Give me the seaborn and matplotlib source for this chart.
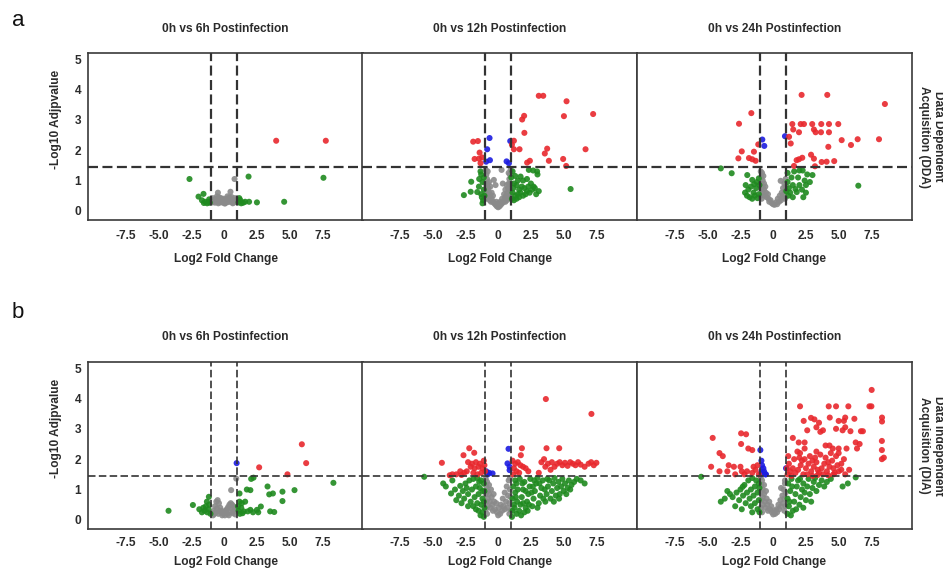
import matplotlib
matplotlib.use("Agg")
import matplotlib.pyplot as plt
import seaborn as sns
import pandas as pd

# ---------------- data ----------------
COMPARISONS = ["0h vs 6h Postinfection", "0h vs 12h Postinfection", "0h vs 24h Postinfection"]
METHODS = ["Data Dependent\nAcquisition (DDA)", "Data Independent\nAcquisition (DIA)"]
PANEL_LETTERS = ["a", "b"]
X_TICKS = [-7.5, -5.0, -2.5, 0, 2.5, 5.0, 7.5]
X_TICK_LABELS = ["-7.5", "-5.0", "-2.5", "0", "2.5", "5.0", "7.5"]
Y_TICKS = [0, 1, 2, 3, 4, 5]
FC_CUT = 1.0
P_CUT = 1.43

# ---- DDA 6h
dda_6h_red = [(3.97, 2.31), (7.76, 2.31)]
dda_6h_blue = []
dda_6h_green = [(-2.65, 1.05), (1.86, 1.13), (7.58, 1.09), (-1.58, 0.56), (-1.96, 0.47), (-1.45, 0.30),
                (-1.2, 0.30), (-1.15, 0.38), (-1.3, 0.25), (-1.1, 0.27), (-1.7, 0.35), (1.22, 0.36),
                (1.1, 0.28), (1.3, 0.25), (1.15, 0.42), (1.6, 0.30), (1.45, 0.27), (1.9, 0.3),
                (2.5, 0.28), (4.58, 0.30), (-1.55, 0.26)]
dda_6h_grey = [(0.79, 1.05), (-0.48, 0.6), (0.48, 0.63), (-0.9, 0.28), (-0.8, 0.35), (-0.7, 0.27),
               (-0.6, 0.4), (-0.5, 0.3), (-0.4, 0.45), (-0.3, 0.28), (-0.2, 0.38), (-0.1, 0.27),
               (0.0, 0.33), (0.1, 0.26), (0.2, 0.4), (0.3, 0.29), (0.4, 0.44), (0.5, 0.3), (0.6, 0.37),
               (0.7, 0.27), (0.8, 0.42), (0.9, 0.3), (-0.85, 0.42), (-0.65, 0.32), (-0.45, 0.25),
               (-0.25, 0.42), (-0.05, 0.4), (0.15, 0.32), (0.35, 0.36), (0.55, 0.46), (0.75, 0.33),
               (0.95, 0.37), (-0.95, 0.36), (-0.55, 0.48), (0.25, 0.48), (0.65, 0.25), (-0.15, 0.31),
               (0.05, 0.24)]

# ---- DDA 12h
dda_12h_red = [(3.1, 3.79), (3.44, 3.79), (5.22, 3.61), (7.25, 3.19), (5.02, 3.12), (1.98, 3.13),
               (1.83, 3.01), (2.0, 2.57), (-1.91, 2.28), (-1.55, 2.3), (1.2, 2.31), (1.2, 2.03),
               (1.63, 2.03), (3.74, 2.05), (3.56, 1.89), (6.67, 2.03), (3.87, 1.65), (4.96, 1.71),
               (5.19, 1.48), (2.21, 1.59), (2.42, 1.65), (-1.42, 1.92), (-1.8, 1.71), (-1.47, 1.72),
               (-1.22, 1.76), (-1.35, 1.57), (1.05, 2.18)]
dda_12h_blue = [(-0.66, 2.4), (0.92, 2.3), (-0.84, 2.03), (-0.63, 1.67), (-0.92, 1.62), (0.64, 1.63),
                (0.82, 1.57)]
dda_12h_green = [(-2.62, 0.52), (-2.1, 0.63), (-2.06, 0.96), (-1.47, 0.8), (-1.3, 1.2), (-1.45, 1.05),
                 (-1.35, 1.3), (-1.3, 0.55), (-1.25, 0.45), (-1.1, 0.7), (-1.2, 0.95), (-1.1, 1.1),
                 (-1.15, 0.35), (-1.05, 0.5), (-1.6, 0.62), (-1.2, 0.25), (1.71, 1.13), (2.34, 1.35),
                 (2.67, 1.33), (2.97, 1.3), (3.0, 1.2), (2.7, 0.8), (2.8, 0.75), (5.53, 0.72),
                 (1.1, 1.3), (1.3, 1.15), (1.5, 1.0), (1.2, 0.9), (1.4, 0.85), (1.6, 0.7), (1.8, 0.8),
                 (2.0, 0.75), (2.2, 0.65), (2.4, 0.6), (2.6, 0.7), (1.1, 0.6), (1.3, 0.5), (1.5, 0.55),
                 (1.7, 0.6), (1.9, 0.5), (2.1, 0.55), (2.3, 0.8), (2.5, 0.9), (1.05, 0.4), (1.2, 0.35),
                 (1.4, 0.4), (3.1, 0.65), (2.9, 0.55), (1.15, 0.75), (1.9, 1.0), (2.2, 1.05),
                 (1.0, 1.1), (1.6, 0.45)]
dda_12h_grey = [(0.0, 0.12), (-0.1, 0.15), (0.1, 0.15), (-0.2, 0.2), (0.2, 0.2), (-0.3, 0.25), (0.3, 0.25),
                (0.0, 0.25), (-0.15, 0.3), (0.15, 0.3), (-0.4, 0.3), (-0.5, 0.4), (-0.6, 0.5), (-0.7, 0.6),
                (-0.75, 0.75), (-0.8, 0.9), (-0.85, 1.05), (-0.9, 1.2), (-0.95, 1.35), (-0.6, 0.8),
                (-0.7, 0.95), (-0.8, 1.3), (-0.9, 0.6), (-0.9, 0.4), (-0.55, 0.3), (-0.65, 0.35),
                (-0.75, 0.45), (-0.85, 0.75), (-0.95, 0.9), (-0.5, 0.6), (-0.4, 0.5), (0.4, 0.3),
                (0.5, 0.4), (0.6, 0.5), (0.7, 0.6), (0.75, 0.75), (0.8, 0.9), (0.85, 1.05), (0.9, 1.2),
                (0.95, 1.35), (0.55, 0.7), (0.65, 0.85), (0.8, 1.25), (0.9, 0.6), (0.9, 0.4),
                (0.55, 0.3), (0.65, 0.35), (0.75, 0.45), (0.85, 0.75), (0.95, 0.9), (0.45, 0.55),
                (0.3, 0.4), (-0.33, 1.02), (0.26, 1.35), (-0.2, 0.85), (0.35, 0.9)]

# ---- DDA 24h
dda_24h_red = [(2.17, 3.82), (4.13, 3.82), (8.53, 3.52), (-1.67, 3.22), (-2.61, 2.87), (1.46, 2.86),
               (2.1, 2.86), (2.35, 2.86), (2.98, 2.86), (3.67, 2.86), (4.26, 2.86), (4.97, 2.86),
               (1.53, 2.68), (1.97, 2.59), (3.11, 2.68), (3.24, 2.59), (3.65, 2.59), (4.26, 2.59),
               (1.21, 2.44), (1.34, 2.22), (5.23, 2.33), (6.45, 2.36), (8.08, 2.36), (4.21, 2.11),
               (5.94, 2.17), (-1.14, 2.19), (-1.47, 1.95), (-2.4, 1.96), (-2.66, 1.73), (-1.85, 1.74),
               (-1.6, 1.7), (-1.34, 1.65), (1.97, 1.7), (1.79, 1.67), (2.22, 1.75), (2.89, 1.85),
               (3.11, 1.72), (3.7, 1.61), (4.08, 1.62), (4.66, 1.64), (3.19, 1.47), (1.59, 1.48)]
dda_24h_blue = [(-0.83, 2.35), (-0.68, 2.14), (0.9, 2.46)]
dda_24h_green = [(-4.0, 1.4), (-3.17, 1.24), (-1.98, 1.18), (-1.6, 1.02), (-1.1, 1.07), (-2.1, 0.85),
                 (-1.9, 0.7), (-1.7, 0.8), (-1.5, 0.6), (-1.3, 0.75), (-1.1, 0.55), (-2.0, 0.5),
                 (-1.8, 0.45), (-1.6, 0.4), (-1.4, 0.5), (-1.2, 0.42), (-1.05, 0.85), (-1.25, 0.95),
                 (-2.15, 0.6), (-1.45, 0.88), (6.5, 0.83), (2.0, 1.33), (2.25, 1.33), (2.6, 1.2),
                 (3.0, 1.18), (1.4, 1.1), (1.9, 1.1), (2.4, 1.0), (1.5, 0.85), (2.0, 0.85), (2.5, 0.85),
                 (1.3, 0.6), (1.8, 0.62), (2.5, 0.6), (1.5, 0.45), (1.1, 0.95), (1.2, 0.75), (1.7, 0.72),
                 (2.2, 0.7), (1.15, 0.5), (1.1, 1.25), (1.6, 1.3), (2.8, 0.95), (2.3, 0.45), (1.0, 0.65)]
dda_24h_grey = [(-0.95, 1.3), (-0.9, 1.1), (-0.95, 0.9), (-0.9, 0.7), (-0.95, 0.5), (-0.85, 1.25),
                (-0.8, 1.0), (-0.8, 0.8), (-0.8, 0.6), (-0.7, 0.9), (-0.7, 0.7), (-0.65, 0.5),
                (-0.6, 0.8), (-0.55, 0.6), (-0.5, 0.45), (-0.4, 0.55), (-0.35, 0.4), (-0.3, 0.3),
                (-0.2, 0.35), (-0.1, 0.25), (0.0, 0.22), (0.1, 0.2), (0.2, 0.28), (0.3, 0.22),
                (0.35, 0.4), (0.45, 0.3), (0.5, 0.5), (0.6, 0.35), (0.65, 0.6), (0.7, 0.45),
                (0.75, 0.75), (0.8, 0.55), (0.85, 0.9), (0.9, 0.65), (0.95, 1.05), (0.9, 0.4),
                (0.57, 0.99), (-0.75, 1.15), (-0.88, 0.4), (0.95, 0.8)]

# ---- DIA 6h
dia_6h_red = [(5.93, 2.49), (6.26, 1.87), (2.67, 1.73), (4.83, 1.5)]
dia_6h_blue = [(0.95, 1.87)]
dia_6h_green = [(-4.25, 0.3), (-2.39, 0.49), (-1.6, 0.4), (-1.5, 0.3), (-1.3, 0.25), (-1.2, 0.35),
                (-1.15, 0.5), (-1.32, 0.6), (-1.17, 0.76), (-1.9, 0.35), (-1.7, 0.25), (-1.05, 0.2),
                (-1.4, 0.45), (1.17, 0.87), (1.17, 0.6), (1.6, 0.6), (2.06, 1.35), (2.24, 1.39),
                (1.73, 1.0), (2.0, 0.98), (3.31, 1.1), (3.44, 0.84), (3.72, 0.87), (4.45, 0.93),
                (5.37, 0.98), (4.45, 0.62), (8.34, 1.22), (2.8, 0.44), (2.5, 0.33), (2.0, 0.33),
                (1.8, 0.28), (1.5, 0.28), (3.51, 0.28), (3.82, 0.26), (1.1, 0.3), (1.3, 0.4),
                (1.2, 0.2), (1.4, 0.22), (2.2, 0.25), (2.6, 0.25), (1.05, 0.45), (1.35, 0.55)]
dia_6h_grey = [(0.92, 1.36), (0.53, 0.98), (-0.9, 0.2), (-0.8, 0.3), (-0.7, 0.45), (-0.6, 0.6),
               (-0.5, 0.65), (-0.4, 0.55), (-0.3, 0.4), (-0.2, 0.3), (-0.1, 0.22), (0.0, 0.25),
               (0.1, 0.3), (0.2, 0.35), (0.3, 0.42), (0.4, 0.5), (0.5, 0.55), (0.6, 0.5),
               (0.7, 0.45), (0.8, 0.4), (0.9, 0.3), (-0.85, 0.15), (-0.65, 0.25), (-0.55, 0.38),
               (-0.45, 0.2), (-0.35, 0.28), (-0.15, 0.15), (0.05, 0.15), (0.25, 0.2), (0.45, 0.25),
               (0.55, 0.38), (0.65, 0.22), (0.85, 0.18), (-0.75, 0.2), (0.35, 0.15), (0.75, 0.3)]

# ---- DIA 12h
dia_12h_red = [(3.64, 3.98), (7.12, 3.49), (-2.21, 2.36), (-2.65, 2.13), (-1.83, 2.21), (-4.3, 1.88),
               (1.81, 2.36), (1.73, 2.13), (3.69, 2.36), (4.66, 2.36),
               (-2.3, 1.9), (-2.0, 1.85), (-1.7, 1.9), (-1.4, 1.85), (-1.1, 1.95), (-2.1, 1.75),
               (-1.8, 1.7), (-1.5, 1.75), (-1.2, 1.7), (-1.3, 1.55), (-1.0, 1.6), (-2.4, 1.6),
               (-2.6, 1.55), (-2.9, 1.6), (-3.2, 1.5), (-3.5, 1.5), (-1.6, 1.5), (-1.9, 1.55),
               (-2.8, 1.48), (-3.7, 1.47), (-1.05, 1.8),
               (1.1, 1.95), (1.3, 1.85), (1.5, 1.9), (1.7, 1.8), (1.9, 1.75), (1.2, 1.7), (1.4, 1.6),
               (1.6, 1.55), (1.15, 1.5), (2.1, 1.7), (2.3, 1.6), (3.3, 1.9), (3.6, 1.75), (3.8, 1.85),
               (4.1, 1.9), (4.3, 1.75), (4.5, 1.85), (4.7, 1.9), (4.9, 1.8), (5.1, 1.88), (5.3, 1.78),
               (5.5, 1.9), (5.7, 1.85), (5.9, 1.8), (6.1, 1.9), (6.3, 1.82), (6.6, 1.75), (6.9, 1.85),
               (7.1, 1.9), (7.3, 1.8), (7.5, 1.88), (3.5, 2.0), (4.0, 1.65), (3.1, 1.55)]
dia_12h_blue = [(0.79, 2.34), (0.71, 1.86), (0.87, 1.75), (0.87, 1.64), (-0.69, 1.55), (-0.43, 1.53),
                (-0.91, 1.6), (-0.8, 1.5)]
dia_12h_green = [(-5.65, 1.42), (-4.2, 1.2), (-3.6, 0.87), (-3.5, 1.3), (-2.9, 1.12), (-2.3, 0.45),
                 (-4.0, 1.1), (-3.3, 1.0), (-3.0, 0.8), (-2.7, 0.95), (-2.5, 1.2), (-2.2, 1.3),
                 (-1.9, 1.35), (-1.6, 1.38), (-1.3, 1.3), (-1.1, 1.2), (-2.6, 0.7), (-2.3, 0.85),
                 (-2.0, 1.0), (-1.7, 1.1), (-1.4, 1.05), (-1.2, 0.95), (-2.1, 0.6), (-1.8, 0.75),
                 (-1.5, 0.85), (-1.2, 0.7), (-1.9, 0.45), (-1.6, 0.55), (-1.3, 0.5), (-1.05, 0.4),
                 (-1.5, 0.3), (-1.2, 0.25), (-1.05, 0.95), (-1.1, 0.6), (-1.7, 0.35), (-2.8, 0.55),
                 (-3.2, 0.65), (-1.35, 0.15), (-1.1, 0.1), (-2.4, 1.05), (-1.45, 1.25),
                 (1.05, 0.1), (1.1, 0.3), (1.2, 0.5), (1.1, 0.7), (1.3, 0.9), (1.15, 1.1), (1.3, 1.3),
                 (1.4, 0.2), (1.45, 0.6), (1.5, 1.0), (1.4, 1.2), (1.25, 0.4), (1.35, 0.75),
                 (1.6, 0.3), (1.7, 0.5), (1.8, 0.75), (1.9, 1.0), (2.0, 1.25), (1.65, 1.35), (2.1, 0.4),
                 (2.2, 0.6), (2.3, 0.85), (2.4, 1.1), (2.45, 1.35), (1.75, 0.15), (2.0, 0.25),
                 (1.9, 0.55), (2.25, 0.3), (2.1, 0.95), (1.85, 1.2), (2.35, 0.5),
                 (2.6, 0.45), (2.7, 0.7), (2.8, 0.95), (2.9, 1.2), (3.0, 1.38), (2.55, 0.9), (2.75, 1.3),
                 (3.1, 0.55), (3.2, 0.8), (3.3, 1.05), (3.4, 1.3), (3.0, 0.4), (3.45, 0.7), (2.65, 1.1),
                 (3.15, 1.2), (3.6, 0.6), (3.7, 0.85), (3.8, 1.1), (3.9, 1.3), (4.0, 0.7), (4.1, 0.95),
                 (4.2, 1.2), (4.3, 1.38), (4.4, 0.8), (4.5, 1.05), (3.55, 1.0), (3.75, 1.35), (4.25, 0.6),
                 (4.6, 1.25), (4.7, 0.85), (4.8, 1.1), (4.9, 1.35), (5.0, 0.95), (5.1, 1.2), (5.3, 1.05),
                 (5.4, 1.3), (5.6, 1.15), (5.8, 1.25), (6.0, 1.35), (6.3, 1.3), (6.6, 1.2), (4.65, 0.7),
                 (5.2, 0.85), (5.5, 1.0)]
dia_12h_grey = [(-0.95, 1.35), (-0.9, 1.1), (-0.95, 0.85), (-0.9, 0.6), (-0.95, 0.35), (-0.85, 1.25),
                (-0.8, 0.95), (-0.8, 0.7), (-0.8, 0.45), (-0.7, 1.15), (-0.7, 0.85), (-0.65, 0.6),
                (-0.6, 0.4), (-0.55, 1.0), (-0.5, 0.75), (-0.45, 0.5), (-0.4, 0.3), (-0.35, 0.85),
                (-0.3, 0.6), (-0.25, 0.35), (-0.15, 0.55), (-0.1, 0.25), (0.0, 0.15), (0.05, 0.4),
                (0.15, 0.2), (0.2, 0.5), (0.3, 0.3), (0.35, 0.7), (0.4, 0.45), (0.5, 0.9), (0.5, 0.35),
                (0.6, 0.6), (0.65, 1.1), (0.7, 0.4), (0.75, 0.8), (0.8, 1.3), (0.85, 0.55), (0.9, 1.0),
                (0.95, 0.3), (0.95, 0.75), (0.9, 1.38), (0.85, 0.2), (-0.85, 0.2)]

# ---- DIA 24h
dia_24h_red = [(7.52, 4.28), (7.5, 3.74), (7.35, 3.74), (2.05, 3.74), (4.24, 3.74), (4.8, 3.74),
               (5.74, 3.74), (8.31, 3.37), (8.31, 3.24), (2.89, 3.36), (3.15, 3.31), (4.32, 3.37),
               (5.0, 3.26), (5.4, 3.26), (5.5, 3.37), (6.2, 3.33), (2.33, 3.26), (3.5, 3.2), (3.3, 3.05),
               (3.8, 2.95), (4.8, 3.0), (5.3, 2.95), (5.5, 3.05), (2.6, 2.95), (3.6, 2.9), (5.9, 2.92),
               (6.7, 2.92), (6.85, 2.92), (-4.62, 2.7), (-2.45, 2.85), (-2.07, 2.82), (-2.45, 2.5),
               (-1.9, 2.35), (-1.6, 2.3), (1.5, 2.7), (1.95, 2.55), (2.4, 2.55), (1.85, 2.25),
               (2.4, 2.35), (4.0, 2.45), (4.3, 2.45), (4.55, 2.35), (5.0, 2.35), (5.0, 2.2),
               (5.6, 2.35), (6.4, 2.35), (6.3, 2.55), (6.6, 2.5), (8.3, 2.6), (8.3, 2.3), (8.3, 2.0),
               (8.45, 2.05), (-4.1, 2.2), (-3.85, 2.1), (-4.74, 1.75), (-4.1, 1.6), (-3.4, 1.8),
               (-3.0, 1.75), (-3.5, 1.6), (-2.5, 1.75), (-2.4, 1.6), (-1.5, 1.75), (-1.35, 1.65),
               (-1.2, 1.8), (-1.6, 1.55), (-2.0, 1.6), (-1.1, 1.5), (-2.9, 1.5), (-2.2, 1.5),
               (5.8, 1.65), (5.0, 1.6), (5.2, 1.65),
               (1.1, 1.5), (1.3, 1.6), (1.5, 1.7), (1.7, 1.55), (1.9, 1.65), (2.1, 1.8), (2.3, 1.5),
               (2.5, 1.7), (2.7, 1.85), (2.9, 1.6), (3.1, 1.75), (3.3, 1.9), (3.5, 1.55), (3.7, 1.7),
               (3.9, 1.85), (4.1, 1.6), (4.3, 1.75), (4.5, 1.95), (4.7, 1.55), (4.9, 1.8), (1.2, 1.85),
               (1.6, 2.0), (2.0, 2.05), (2.4, 2.0), (2.8, 2.1), (3.2, 2.05), (3.6, 2.15), (4.0, 2.05),
               (4.4, 2.2), (4.8, 2.1), (1.4, 1.45), (2.6, 1.5), (3.0, 1.45), (3.4, 1.48), (3.8, 1.5),
               (4.2, 1.47), (4.6, 1.5), (1.05, 1.7), (2.2, 1.95), (3.0, 1.95), (3.4, 1.65), (4.2, 1.9),
               (4.6, 1.7), (5.2, 1.85), (5.4, 2.0), (2.05, 2.2), (3.3, 2.25), (1.15, 2.1), (5.5, 1.5)]
dia_24h_blue = [(-0.98, 2.3), (-0.9, 1.95), (-0.85, 1.8), (-0.75, 1.7), (-0.7, 1.6), (-0.6, 1.5),
                (-0.9, 1.6), (-0.55, 1.5), (0.98, 1.7), (-0.95, 1.5)]
dia_24h_green = [(-5.5, 1.42), (-3.5, 0.95), (-3.3, 0.85), (-3.1, 0.75), (-2.8, 0.9), (-2.5, 1.0),
                 (-2.2, 1.15), (-1.9, 1.3), (-1.6, 1.38), (-1.3, 1.3), (-1.1, 1.2), (-2.6, 0.65),
                 (-2.3, 0.8), (-2.0, 0.9), (-1.7, 1.0), (-1.4, 1.1), (-2.1, 0.55), (-1.8, 0.7),
                 (-1.5, 0.8), (-1.2, 0.9), (-1.7, 0.45), (-1.4, 0.55), (-1.1, 0.65), (-1.2, 0.35),
                 (-1.05, 0.25), (-3.7, 0.7), (-4.0, 0.6), (-2.9, 0.45), (-2.4, 0.35), (-1.05, 1.05),
                 (-1.6, 0.25), (-2.33, 1.09),
                 (1.1, 0.2), (1.2, 0.45), (1.1, 0.7), (1.3, 0.95), (1.15, 1.2), (1.4, 1.35), (1.5, 0.3),
                 (1.6, 0.6), (1.7, 0.85), (1.8, 1.1), (1.9, 1.3), (2.0, 0.5), (2.1, 0.75), (2.2, 1.0),
                 (2.3, 1.2), (2.4, 0.9), (2.5, 0.65), (2.6, 1.1), (2.7, 1.35), (2.8, 0.85), (3.0, 1.05),
                 (3.1, 1.25), (3.3, 0.95), (3.5, 1.15), (3.7, 1.3), (3.9, 1.1), (4.1, 1.25), (4.4, 1.35),
                 (1.35, 0.15), (1.75, 0.35), (2.3, 0.4), (2.9, 0.6), (1.25, 0.6), (1.45, 1.1),
                 (2.05, 1.35), (3.2, 1.38), (5.3, 1.1), (5.7, 1.2), (6.3, 1.4)]
dia_24h_grey = [(-0.95, 1.4), (-0.9, 1.15), (-0.95, 0.9), (-0.9, 0.65), (-0.95, 0.4), (-0.85, 1.3),
                (-0.8, 1.0), (-0.8, 0.75), (-0.8, 0.5), (-0.7, 1.15), (-0.7, 0.85), (-0.65, 0.6),
                (-0.6, 0.4), (-0.55, 0.95), (-0.5, 0.7), (-0.45, 0.5), (-0.4, 0.3), (-0.3, 0.6),
                (-0.25, 0.35), (-0.15, 0.45), (-0.1, 0.25), (0.0, 0.18), (0.1, 0.3), (0.15, 0.2),
                (0.25, 0.35), (0.3, 0.25), (0.4, 0.5), (0.45, 0.35), (0.55, 0.65), (0.6, 0.45),
                (0.7, 0.8), (0.75, 0.55), (0.8, 1.0), (0.85, 0.7), (0.9, 1.2), (0.95, 0.9),
                (0.95, 0.45), (0.85, 0.3), (0.9, 1.3), (-0.85, 0.25), (0.6, 1.05)]

PANELS = [
    [(dda_6h_red, dda_6h_blue, dda_6h_green, dda_6h_grey),
     (dda_12h_red, dda_12h_blue, dda_12h_green, dda_12h_grey),
     (dda_24h_red, dda_24h_blue, dda_24h_green, dda_24h_grey)],
    [(dia_6h_red, dia_6h_blue, dia_6h_green, dia_6h_grey),
     (dia_12h_red, dia_12h_blue, dia_12h_green, dia_12h_grey),
     (dia_24h_red, dia_24h_blue, dia_24h_green, dia_24h_grey)],
]
GROUPS = ["Up/Down (sig.)", "Low FC (sig.)", "High FC (n.s.)", "n.s."]
PALETTE = {"Up/Down (sig.)": "#e8282d", "Low FC (sig.)": "#1c1ce0",
           "High FC (n.s.)": "#1f8a1f", "n.s.": "#8a8a8a"}
DRAW_ORDER = ["n.s.", "High FC (n.s.)", "Low FC (sig.)", "Up/Down (sig.)"]

# ---------------- style ----------------
sns.set_style("white")
plt.rcParams["font.family"] = ["Liberation Sans", "DejaVu Sans"]
TXT = "#2b2b2b"
FS = 8.6

W, H = 943, 569
fig = plt.figure(figsize=(W / 100, H / 100), dpi=100)

col_left = [88, 362, 637]
col_w = 275
row_top = [53, 362]
row_h = 167

for r in range(2):
    for c in range(3):
        l = col_left[c] / W
        b = 1 - (row_top[r] + row_h) / H
        ax = fig.add_axes([l, b, col_w / W, row_h / H])
        red, blue, green, grey = PANELS[r][c]
        rows = []
        for g, pts in zip(GROUPS, [red, blue, green, grey]):
            for (x, y) in pts:
                rows.append({"log2fc": x, "nlog10p": y, "group": g})
        df = pd.DataFrame(rows)
        df["order"] = df["group"].map({g: i for i, g in enumerate(DRAW_ORDER)})
        df = df.sort_values("order", kind="stable")
        sns.scatterplot(data=df, x="log2fc", y="nlog10p", hue="group", palette=PALETTE,
                        s=19, linewidth=0, alpha=0.9, legend=False, ax=ax, zorder=3)

        lw = 1.6 if r == 0 else 1.2
        dash = (0, (4.5, 2.0))
        for xv in (-FC_CUT, FC_CUT):
            ax.axvline(xv, color="#333333", lw=lw, ls=dash, zorder=4)
        ax.axhline(P_CUT, color="#333333", lw=lw, ls=dash, zorder=4)

        ax.set_xlim(-10.4, 10.6)
        ax.set_ylim(-0.3, 5.2)
        ax.set_xticks(X_TICKS)
        ax.set_xticklabels(X_TICK_LABELS, fontsize=FS, fontweight="bold", color=TXT)
        ax.set_yticks(Y_TICKS)
        if c == 0:
            ax.set_yticklabels([str(v) for v in Y_TICKS], fontsize=FS, fontweight="bold", color=TXT)
            ax.set_ylabel("-Log10 Adjpvalue", fontsize=FS, fontweight="bold", color=TXT)
            ax.yaxis.set_label_coords(-0.095, 0.6)
        else:
            ax.set_yticklabels([])
            ax.set_ylabel("")
        ax.tick_params(axis="both", length=0)
        ax.tick_params(axis="x", pad=7 if r == 0 else 5.5)
        ax.tick_params(axis="y", pad=5)
        ax.set_xlabel("Log2 Fold Change", fontsize=FS, fontweight="bold", color=TXT)
        ax.xaxis.set_label_coords(0.5, -0.195 if r == 0 else -0.162)
        for sp in ax.spines.values():
            sp.set_visible(True)
            sp.set_color("#3a3a3a")
            sp.set_linewidth(1.2)
        ax.text(0.5, 1.145 if r == 0 else 1.15, COMPARISONS[c], transform=ax.transAxes,
                ha="center", va="center", fontsize=FS, fontweight="bold", color=TXT)
        ax.grid(False)

    # row letter and method label
    fig.text(18 / W, 1 - (21 if r == 0 else 312) / H, PANEL_LETTERS[r], fontsize=16,
             ha="center", va="center", color="#111111")
    fig.text(931 / W, 1 - (row_top[r] + row_h / 2) / H, METHODS[r], rotation=270,
             ha="center", va="center", multialignment="center", fontsize=FS,
             fontweight="bold", color=TXT, linespacing=1.25)

fig.savefig("out.png", dpi=100, facecolor="white")
